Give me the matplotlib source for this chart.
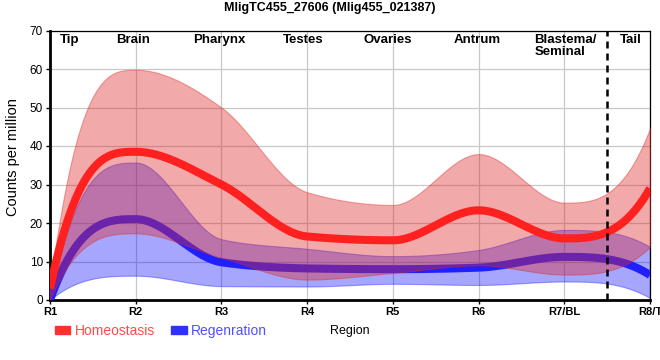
import numpy as np
import matplotlib
matplotlib.use("Agg")
import matplotlib.pyplot as plt
from matplotlib.patches import Patch

plt.rcParams['font.family'] = ['Liberation Sans', 'DejaVu Sans']

# values, one per region
regions = ['R1', 'R2', 'R3', 'R4', 'R5', 'R6', 'R7/BL', 'R8/T']
homeo_mean = [3.0, 38.5, 30.0, 16.5, 15.5, 23.3, 16.0, 29.0]
homeo_upper = [3.5, 59.8, 50.0, 28.0, 24.7, 37.9, 25.3, 44.6]
homeo_lower = [0.0, 17.3, 11.0, 5.3, 7.0, 9.0, 6.6, 13.8]
regen_mean = [0.0, 21.0, 9.8, 8.2, 8.0, 8.4, 11.2, 6.5]
regen_upper = [0.5, 35.7, 15.8, 13.3, 11.4, 13.0, 18.2, 13.8]
regen_lower = [0.0, 6.3, 3.6, 3.5, 4.2, 3.9, 4.8, 0.5]

tissues = ['Tip', 'Brain', 'Pharynx', 'Testes', 'Ovaries', 'Antrum', 'Blastema/\nSeminal', 'Tail']
tissue_x = [0.12, 0.97, 1.98, 2.95, 3.94, 4.98, 5.65, 6.78]
tissue_ha = ['left', 'center', 'center', 'center', 'center', 'center', 'left', 'center']
tail_cut = 6.5


def monotone_curve(ys, n=60):
    """monotone cubic through the points (x = 0..len-1), used for drawing only"""
    y = np.asarray(ys, dtype=float)
    k = len(y)
    d = np.diff(y)
    m = np.zeros(k)
    for i in range(1, k - 1):
        s0, s1 = d[i - 1], d[i]
        p = (s0 + s1) / 2
        m[i] = (np.sign(s0) + np.sign(s1)) * min(abs(s0), abs(s1), 0.5 * abs(p))
    # end slopes, kept inside the monotone limit
    m[0] = 3 * d[0] - 2 * m[1]
    if np.sign(m[0]) != np.sign(d[0]):
        m[0] = 0
    m[0] = np.sign(d[0]) * min(abs(m[0]), 3 * abs(d[0]))
    m[-1] = 3 * d[-1] - 2 * m[-2]
    if np.sign(m[-1]) != np.sign(d[-1]):
        m[-1] = 0
    m[-1] = np.sign(d[-1]) * min(abs(m[-1]), 3 * abs(d[-1]))
    xx, yy = [], []
    t = np.linspace(0, 1, n)
    h00 = 2 * t**3 - 3 * t**2 + 1
    h10 = t**3 - 2 * t**2 + t
    h01 = -2 * t**3 + 3 * t**2
    h11 = t**3 - t**2
    for i in range(k - 1):
        xx.append(i + t)
        yy.append(h00 * y[i] + h10 * m[i] + h01 * y[i + 1] + h11 * m[i + 1])
    return np.concatenate(xx), np.concatenate(yy)


fig = plt.figure(figsize=(6.6, 3.6), dpi=100)
ax = fig.add_axes([50 / 660, 1 - 300 / 360, 600 / 660, 269.5 / 360])

x, rl = monotone_curve(regen_lower)
_, ru = monotone_curve(regen_upper)
_, rm = monotone_curve(regen_mean)
_, hl = monotone_curve(homeo_lower)
_, hu = monotone_curve(homeo_upper)
_, hm = monotone_curve(homeo_mean)

ax.fill_between(x, rl, ru, color='#0000ff', alpha=0.35, lw=0.8, zorder=2)
ax.plot(x, rm, color='#2020ff', lw=5.8, solid_capstyle='butt', zorder=3)
ax.fill_between(x, hl, hu, color='#dc2828', alpha=0.4, lw=0.8, zorder=4)
ax.plot(x, hm, color='#ff2020', lw=5.8, solid_capstyle='butt', zorder=5)

ax.axvline(tail_cut, color='black', lw=1.8, linestyle=(0, (2.8, 2)), zorder=6)

for name, tx, ha in zip(tissues, tissue_x, tissue_ha):
    ax.text(tx, 69.0, name, ha=ha, va='top', fontsize=9.5, fontweight='bold',
            linespacing=1.0, zorder=7)

ax.set_xlim(0, len(regions) - 1)
ax.set_ylim(0, 70)
ax.set_xticks(range(len(regions)))
ax.set_xticklabels(regions, fontweight='bold', fontsize=8)
ax.set_yticks(range(0, 71, 10))
ax.tick_params(axis='y', labelsize=8.5, length=3, width=1, pad=2)
ax.tick_params(axis='x', length=3, width=1, pad=2)
ax.grid(True, color='#c8c8c8', lw=0.9)
ax.set_axisbelow(True)

for s in ['left', 'bottom']:
    ax.spines[s].set_linewidth(2.0)
for s in ['top', 'right']:
    ax.spines[s].set_linewidth(0.9)

ax.set_ylabel('Counts per million', fontsize=10.5)
ax.yaxis.set_label_coords(-30 / 600, 0.53)
ax.set_xlabel('Region', fontsize=9)
ax.xaxis.set_label_coords(0.5, -31 / 269.5)
ax.xaxis.label.set_va('center')

fig.suptitle('MligTC455_27606 (Mlig455_021387)', fontsize=9, fontweight='bold',
             x=0.5, y=1 - 8 / 360, va='center')

handles = [Patch(color='#ff3030'), Patch(color='#3030ff')]
leg = fig.legend(handles, ['Homeostasis', 'Regenration'], loc='center left',
                 bbox_to_anchor=(55 / 660, 1 - 331 / 360), ncol=2, frameon=False,
                 fontsize=10, handlelength=1.1, handleheight=0.5, handletextpad=0.3,
                 columnspacing=1.2, borderpad=0, borderaxespad=0,
                 labelcolor=['#ff4a4a', '#5050ff'])

fig.savefig('out.png', dpi=100)
